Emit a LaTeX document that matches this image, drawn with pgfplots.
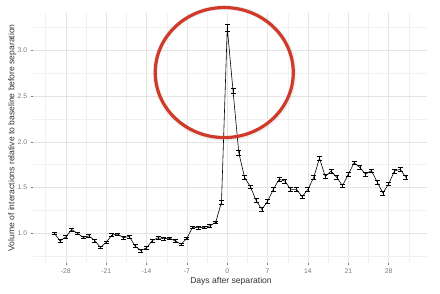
\documentclass[border=0pt]{standalone}
\usepackage{pgfplots}
\pgfplotsset{compat=1.18}
\usepackage{fontspec}
\setmainfont{Liberation Sans}
\definecolor{gridmaj}{HTML}{E4E4E4}
\definecolor{gridmin}{HTML}{F1F1F1}
\definecolor{tickc}{HTML}{7A7A7A}
\definecolor{circred}{HTML}{CF3A2B}
\pgfplotstableread{
d v e
-30 1.00 0.015
-29 0.915 0.015
-28 0.96 0.015
-27 1.04 0.015
-26 1.00 0.015
-25 0.955 0.015
-24 0.97 0.015
-23 0.92 0.015
-22 0.845 0.015
-21 0.90 0.015
-20 0.98 0.015
-19 0.99 0.015
-18 0.95 0.015
-17 0.965 0.015
-16 0.86 0.015
-15 0.81 0.015
-14 0.84 0.015
-13 0.92 0.015
-12 0.95 0.015
-11 0.94 0.015
-10 0.945 0.015
-9 0.915 0.015
-8 0.88 0.015
-7 0.945 0.015
-6 1.065 0.015
-5 1.06 0.015
-4 1.065 0.015
-3 1.08 0.015
-2 1.12 0.015
-1 1.34 0.02
0 3.25 0.035
1 2.56 0.03
2 1.88 0.025
3 1.61 0.02
4 1.51 0.02
5 1.36 0.02
6 1.26 0.02
7 1.35 0.02
8 1.48 0.02
9 1.59 0.02
10 1.57 0.02
11 1.48 0.02
12 1.48 0.02
13 1.40 0.02
14 1.48 0.02
15 1.61 0.02
16 1.82 0.025
17 1.62 0.02
18 1.68 0.02
19 1.61 0.02
20 1.52 0.02
21 1.645 0.02
22 1.77 0.02
23 1.72 0.02
24 1.645 0.02
25 1.685 0.02
26 1.56 0.02
27 1.44 0.02
28 1.54 0.02
29 1.68 0.02
30 1.70 0.02
31 1.61 0.02
}\datatab
\begin{document}
\begin{tikzpicture}
\begin{axis}[
  scale only axis,
  width=393.4bp, height=249.7bp,
  xmin=-33.65, xmax=34.6,
  ymin=0.677, ymax=3.41,
  axis line style={draw=none},
  xtick={-28,-21,-14,-7,0,7,14,21,28},
  ytick={1.0,1.5,2.0,2.5,3.0},
  minor xtick={-31.5,-24.5,-17.5,-10.5,-3.5,3.5,10.5,17.5,24.5,31.5},
  minor ytick={0.75,1.25,1.75,2.25,2.75,3.25},
  grid=both,
  major grid style={gridmaj, line width=0.5bp},
  minor grid style={gridmin, line width=0.4bp},
  tick align=outside,
  major tick length=2.7bp,
  minor tick length=0pt,
  tick style={tickc, line width=0.4bp},
  xtick pos=bottom, ytick pos=left,
  /pgf/number format/assume math mode=true,
  yticklabel style={/pgf/number format/fixed, /pgf/number format/fixed zerofill, /pgf/number format/precision=1},
  ticklabel style={font=\fontsize{6.8}{8}\selectfont, text=tickc},
  xlabel={Days after separation},
  ylabel={Volume of interactions relative to baseline before separation},
  label style={font=\fontsize{8.6}{10}\selectfont, text=black!80},
  xlabel style={at={(axis description cs:0.5025,-0.0733)}, anchor=center},
  ylabel style={at={(axis description cs:-0.054,0.5)}, anchor=center},
  clip=false,
]
\addplot[black, line width=0.6bp,
  error bars/.cd, y dir=both, y explicit,
  error bar style={black, line width=0.45bp},
  error mark options={rotate=90, mark size=2.5bp, black, line width=0.45bp}]
  table[x=d, y=v, y error=e] {\datatab};
\draw[black, opacity=0.06, line width=5bp] (axis cs:-0.45,2.752) ellipse [x radius=69.5bp, y radius=65.5bp];
\draw[circred, line width=3.2bp] (axis cs:-0.52,2.758) ellipse [x radius=69bp, y radius=65bp];
\path (rel axis cs:-0.0846,-0.1253) rectangle (rel axis cs:1.0338,1.052);
\end{axis}
\end{tikzpicture}
\end{document}
